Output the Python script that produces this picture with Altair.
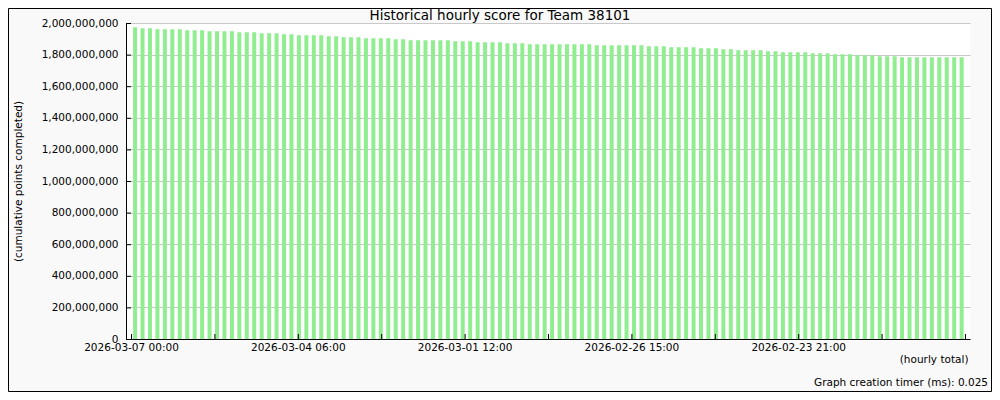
import json
import altair as alt
import pandas as pd

# ---------------- data ----------------
title_text = "Historical hourly score for Team 38101"
y_title = "(cumulative points completed)"
x_title = "(hourly total)"
timer_text = "Graph creation timer (ms): 0.025"

# cumulative score per bar (newest at left)
scores = [
    1972400000, 1966100000, 1966100000, 1959800000, 1959800000, 1959800000,
    1959800000, 1953500000, 1953500000, 1953500000, 1947200000, 1947200000,
    1947200000, 1947200000, 1940900000, 1940900000, 1940900000, 1934600000,
    1934600000, 1934600000, 1928300000, 1928300000,
    1922000000, 1922000000, 1922000000, 1922000000, 1915700000, 1915700000,
    1909400000, 1909400000, 1909400000, 1903000000, 1903000000, 1903000000,
    1903000000, 1896700000, 1896700000, 1890400000, 1890400000, 1890400000,
    1890400000, 1890400000, 1890400000, 1884100000, 1884100000,
    1884100000, 1877800000, 1877800000, 1877800000, 1877800000, 1871500000,
    1871500000, 1871500000, 1865200000, 1865200000, 1865200000, 1865200000,
    1865200000, 1865200000, 1865200000, 1865200000, 1865200000, 1858900000,
    1858900000, 1858900000, 1858900000, 1858900000, 1858900000,
    1858900000, 1852600000, 1852600000, 1852600000, 1846300000, 1846300000,
    1846300000, 1846300000, 1839900000, 1839900000, 1839900000, 1833600000,
    1833600000, 1827300000, 1827300000, 1827300000, 1827300000, 1821000000,
    1821000000, 1814700000, 1814700000, 1814700000,
    1814700000, 1808400000, 1808400000, 1808400000, 1802100000, 1802100000,
    1802100000, 1795800000, 1795800000, 1795800000, 1789500000, 1789500000,
    1789500000, 1783200000, 1783200000, 1783200000, 1783200000, 1783200000,
    1783200000, 1783200000, 1783200000, 1783200000,
]

date_labels = ["2026-03-07 00:00", "2026-03-04 06:00", "2026-03-01 12:00",
               "2026-02-26 15:00", "2026-02-23 21:00"]

y_ticks = [0, 200000000, 400000000, 600000000, 800000000, 1000000000,
           1200000000, 1400000000, 1600000000, 1800000000, 2000000000]

n_bars = len(scores)
n_tick_steps = 10
x_ticks = [i * n_bars / n_tick_steps for i in range(n_tick_steps + 1)]
tick_labels = [date_labels[i // 2] if (i % 2 == 0 and i // 2 < len(date_labels)) else ""
               for i in range(n_tick_steps + 1)]
label_expr = f"{json.dumps(tick_labels)}[round(datum.value / {n_bars / n_tick_steps})]"

df = pd.DataFrame({"idx": list(range(n_bars)), "score": scores})

# ---------------- layout ----------------
W, H = 984, 384
PW, PH = 844, 316
PL, PT = 118, 15
FONT = "DejaVu Sans"
FS = 10.5

x_scale = alt.Scale(domain=[0, n_bars], nice=False, zero=False)
y_scale = alt.Scale(domain=[0, 2000000000], nice=False)

bars = alt.Chart(df).transform_calculate(
    pos="datum.idx + 0.55"
).mark_bar(size=4, color="#90ee90", orient="vertical").encode(
    x=alt.X("pos:Q", scale=x_scale,
            axis=alt.Axis(values=x_ticks, tickCount=len(x_ticks),
                          labelExpr=label_expr, title=x_title,
                          grid=False, tickSize=0, domainColor="black",
                          labelPadding=3, labelFlush=False, labelOverlap=False,
                          labelFontSize=FS, labelColor="black",
                          titleX=842, titleY=20, titleAlign="right",
                          titleBaseline="middle", titleFontWeight="normal",
                          titleFontSize=FS, titleColor="black")),
    y=alt.Y("score:Q", scale=y_scale,
            axis=alt.Axis(values=y_ticks, tickCount=len(y_ticks),
                          format=",d", title=y_title,
                          grid=True, gridColor="#c8c8c8", tickSize=0,
                          domainColor="black", labelPadding=8,
                          labelOverlap=False,
                          labelFontSize=FS, labelColor="black",
                          titleX=-108, titleY=158, titleAngle=-90,
                          titleAlign="center", titleBaseline="middle",
                          titleFontWeight="normal", titleFontSize=FS,
                          titleColor="black")),
)

xt = pd.DataFrame({"pos": x_ticks})
x_tick_marks = alt.Chart(xt).mark_rule(color="black", xOffset=0.5).encode(
    x=alt.X("pos:Q", scale=x_scale),
    y=alt.value(PH - 5), y2=alt.value(PH),
)

yt = pd.DataFrame({"score": y_ticks})
y_tick_marks = alt.Chart(yt).mark_rule(color="black", yOffset=0.5).encode(
    y=alt.Y("score:Q", scale=y_scale),
    x=alt.value(0), x2=alt.value(5),
)

title = alt.Chart(pd.DataFrame({"t": [title_text]})).mark_text(
    fontSize=13.5, align="center", baseline="middle", color="black"
).encode(text="t:N", x=alt.value(374), y=alt.value(-7))

timer = alt.Chart(pd.DataFrame({"t": [timer_text]})).mark_text(
    fontSize=FS, align="right", baseline="middle", color="black"
).encode(text="t:N", x=alt.value(862), y=alt.value(360))

border = alt.Chart(pd.DataFrame({"a": [0]})).mark_rect(
    filled=False, stroke="black", strokeWidth=1
).encode(
    x=alt.value(-PL + 0.5), x2=alt.value(W - PL - 0.5),
    y=alt.value(-PT + 0.5), y2=alt.value(H - PT - 0.5),
)

chart = alt.layer(bars, x_tick_marks, y_tick_marks, title, timer, border).properties(
    width=PW, height=PH,
    padding={"left": PL, "top": PT, "right": W - PL - PW, "bottom": H - PT - PH},
    autosize=alt.AutoSizeParams(type="none"),
    background="#f9f9f9",
).configure(font=FONT).configure_view(fill="white", stroke=None)

chart.save("out.html", embed_options={"renderer": "svg", "actions": False})
